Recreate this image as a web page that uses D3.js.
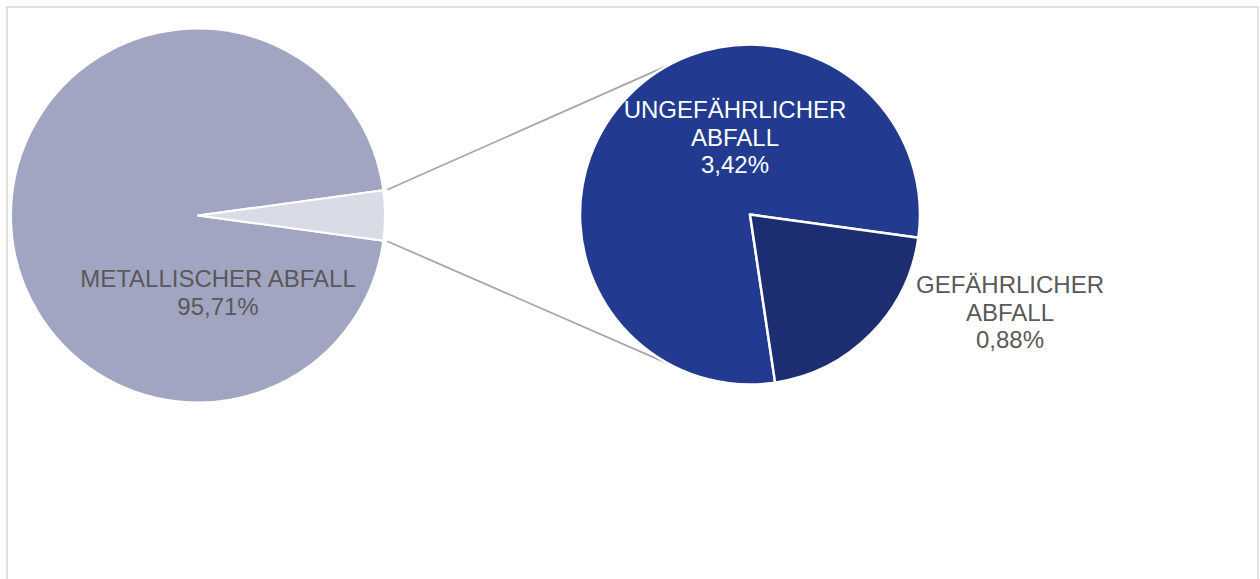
<!DOCTYPE html>
<html lang="de">
<head>
  <meta charset="UTF-8">
  <title>Abfall – Kreis aus Kreis</title>
  <script src="https://d3js.org/d3.v7.min.js"></script>
  <style>
    body {
      margin: 0;
      background: white;
    }
    .label {
      font-family: 'Liberation Sans', Arial, sans-serif;
      font-size: 24px;
      text-anchor: middle;
    }
  </style>
</head>
<body>

<svg width="1260" height="579"></svg>

<script>
const width = 1260, height = 579;

// main pie: metal waste vs. "other" (split in the second pie)
const mainLabels = ["METALLISCHER ABFALL"];
const mainValues = [95.71];

// second pie: breakdown of the small slice
const subLabels = [["UNGEFÄHRLICHER", "ABFALL"], ["GEFÄHRLICHER", "ABFALL"]];
const subValues = [3.42, 0.88];

const mainColors = ["#a2a5c1", "#d9dce6"];
const subColors = ["#223a8f", "#1c2d72"];

const svg = d3.select("svg")
  .attr("width", width)
  .attr("height", height);

// chart frame (bottom edge runs off the picture)
svg.append("rect")
  .attr("x", 7).attr("y", 7)
  .attr("width", 1251).attr("height", 620)
  .attr("fill", "none")
  .attr("stroke", "#d9d9d9")
  .attr("stroke-width", 1.5);

const left = { cx: 198, cy: 215.5, r: 187 };
const right = { cx: 750, cy: 214.5, r: 170 };

const fmt = v => d3.format(".2f")(v).replace(".", ",") + "%";
const rad = deg => deg * Math.PI / 180;

// ---- left pie ----
const otherValue = d3.sum(subValues);
const mainData = mainValues.concat([otherValue]);
const total = d3.sum(mainData);
const otherHalf = otherValue / total * Math.PI; // half-angle of the small slice

const mainPie = d3.pie().sort(null)
  .startAngle(Math.PI / 2 + otherHalf)
  .endAngle(Math.PI / 2 + otherHalf + 2 * Math.PI);

const mainArcs = mainPie(mainData);
const leftArc = d3.arc().innerRadius(0).outerRadius(left.r);

const gL = svg.append("g").attr("transform", `translate(${left.cx},${left.cy})`);
gL.selectAll("path")
  .data(mainArcs)
  .enter().append("path")
  .attr("d", leftArc)
  .attr("fill", (d, i) => mainColors[i])
  .attr("stroke", "white")
  .attr("stroke-width", 2)
  .attr("stroke-linejoin", "round");

// ---- connector lines ----
const other = mainArcs[1];
const polar = (c, r, a) => [c.cx + r * Math.sin(a), c.cy - r * Math.cos(a)];
const links = [
  [polar(left, left.r + 4, other.startAngle), polar(right, right.r, rad(-28))],
  [polar(left, left.r + 4, other.endAngle), polar(right, right.r, rad(208))]
];
svg.selectAll(".link")
  .data(links)
  .enter().append("line")
  .attr("class", "link")
  .attr("x1", d => d[0][0]).attr("y1", d => d[0][1])
  .attr("x2", d => d[1][0]).attr("y2", d => d[1][1])
  .attr("stroke", "#a6a6a6")
  .attr("stroke-width", 1.8);

// ---- right pie ----
const subStart = rad(171.5);
const subPie = d3.pie().sort(null)
  .startAngle(subStart)
  .endAngle(subStart + 2 * Math.PI);
const subArcs = subPie(subValues);
const rightArc = d3.arc().innerRadius(0).outerRadius(right.r);

const gR = svg.append("g").attr("transform", `translate(${right.cx},${right.cy})`);
gR.selectAll("path")
  .data(subArcs)
  .enter().append("path")
  .attr("d", rightArc)
  .attr("fill", (d, i) => subColors[i])
  .attr("stroke", "white")
  .attr("stroke-width", 2.5)
  .attr("stroke-linejoin", "round");

// ---- labels ----
function addLabel(x, y, lines, color) {
  const t = svg.append("text")
    .attr("class", "label")
    .attr("fill", color);
  lines.forEach((s, i) => {
    t.append("tspan")
      .attr("x", x)
      .attr("y", y + i * 27.5)
      .text(s);
  });
}

addLabel(218, 287, [mainLabels[0], fmt(mainValues[0])], "#595959");
addLabel(735, 118, subLabels[0].concat([fmt(subValues[0])]), "white");
addLabel(1010, 293, subLabels[1].concat([fmt(subValues[1])]), "#595959");
</script>

</body>
</html>
